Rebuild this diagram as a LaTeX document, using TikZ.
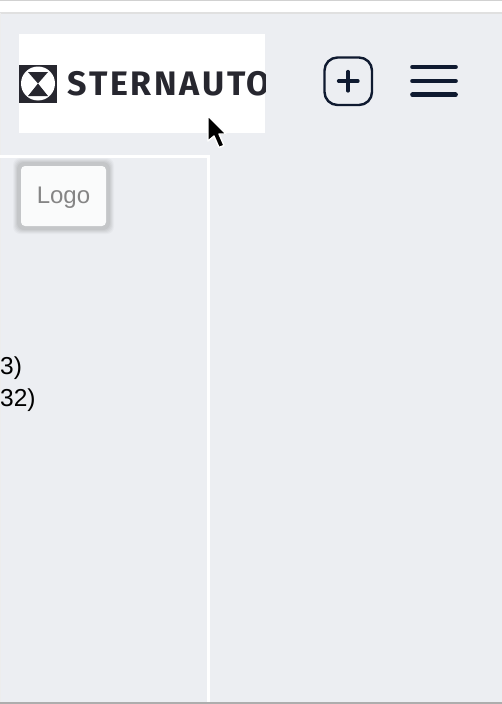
\documentclass[tikz,border=0pt]{standalone}
\usepackage{fontspec}
\setmainfont{Liberation Sans}
\newfontfamily\logofont{Fira Sans}
\definecolor{pagebg}{HTML}{ECEEF2}
\definecolor{inkdark}{HTML}{0F1A30}
\definecolor{logoink}{HTML}{27272F}
\definecolor{btnfill}{HTML}{FAFBFB}
\tikzset{
  iconline/.style={draw=inkdark,line width=2.4pt},
  plusline/.style={draw=inkdark,line width=3.2pt,line cap=round},
  barline/.style={draw=inkdark,line width=4.7pt,line cap=round},
  body/.style={font=\fontsize{24.5}{24.5}\selectfont,text=black,anchor=base west,inner sep=0pt}
}
\begin{document}
\begin{tikzpicture}[x=1pt,y=-1pt]
\useasboundingbox (0,0) rectangle (502,704);
\fill[pagebg] (0,0) rectangle (502,704);
% top strip
\fill[white] (0,0) rectangle (502,12);
\fill[black!18] (0,0) rectangle (502,1);
\fill[black!12] (0,12) rectangle (502,13.5);
\fill[black!7] (0,13) rectangle (1,704);
% bottom
\fill[black!32] (0,702) rectangle (502,704);
% panel lines
\fill[white] (0,155) rectangle (210,158);
\fill[white] (207,155) rectangle (210,702);
% logo
\fill[white] (19,34) rectangle (265,133);
\fill[logoink] (19,65) rectangle (57,102.5);
\fill[white] (38,83.5) circle (17);
\fill[logoink] (28,72) -- (48,72) -- (38,83.5) -- (48,96) -- (28,96) -- (38,83.5) -- cycle;
\begin{scope}
\clip (19,34) rectangle (265,133);
\node[anchor=base west,inner sep=0pt,text=logoink] (brand) at (67.5,95)
  {\logofont\fontsize{34}{34}\selectfont\addfontfeatures{LetterSpace=8}\bfseries STERNAUTO};
\end{scope}
% logo button
\foreach \g/\o in {8/0.025,7/0.03,6/0.035,5/0.04,4/0.045}{
  \fill[black,opacity=\o,rounded corners=7pt] (21-\g,166-\g) rectangle (106+\g,226+\g);
}
\node[fill=btnfill,rounded corners=4pt,minimum width=85pt,minimum height=60pt,inner sep=0pt] (logobtn) at (63.5,196) {};
\node[text=black!48,font=\fontsize{24}{24}\selectfont] (logolabel) at (63.5,198) {Logo};
% left text
\node[body] (t1) at (0,374) {3)};
\node[body] (t2) at (0,406) {32)};
% plus icon
\draw[iconline,rounded corners=13pt] (324.5,57.5) rectangle (372,105);
\draw[plusline] (338.5,81) -- (358,81);
\draw[plusline] (348,71.5) -- (348,91);
% menu
\draw[barline] (412.5,67) -- (455.5,67);
\draw[barline] (412.5,81) -- (455.5,81);
\draw[barline] (412.5,94.8) -- (455.5,94.8);
% cursor
\fill[black,draw=white,line width=1.4pt,line join=round] (208,116) -- (208,141) -- (214,136) -- (219,147.5) -- (224,145.5) -- (219,134) -- (226,134) -- cycle;
\end{tikzpicture}
\end{document}
